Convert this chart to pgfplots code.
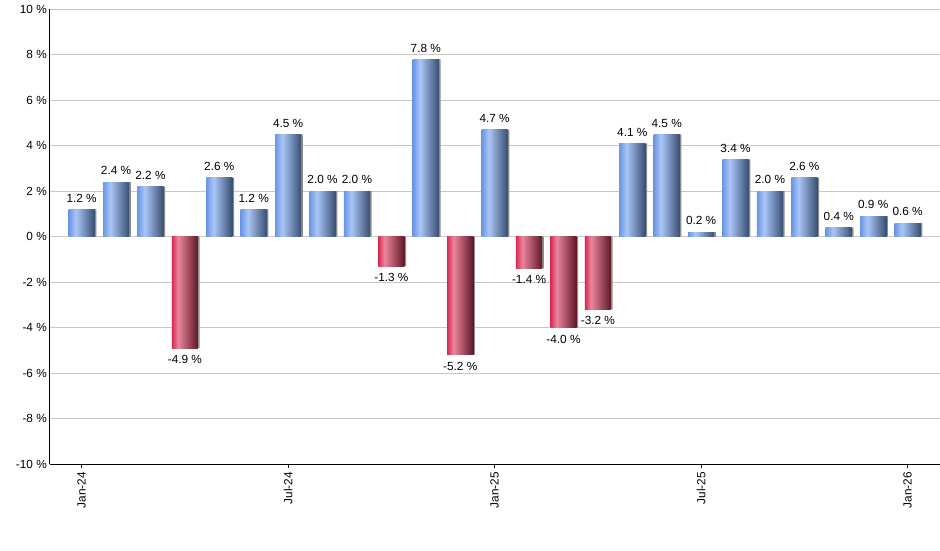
\documentclass[border=0pt]{standalone}
\usepackage{pgfplots}
\pgfplotsset{compat=1.18}
\usepackage{fontspec}
\setmainfont{Liberation Sans}

\definecolor{blueA}{HTML}{6A96E6}
\definecolor{blueB}{HTML}{AAC6F6}
\definecolor{blueC}{HTML}{384D72}
\definecolor{redA}{HTML}{D82A54}
\definecolor{redB}{HTML}{EA869D}
\definecolor{redC}{HTML}{5E1626}
\definecolor{gridc}{HTML}{C8C8C8}
\definecolor{shadowc}{HTML}{8C8C8C}

% colours run left to right across each bar (25bp..75bp is the bar)
\pgfdeclarehorizontalshading{bluebar}{100bp}{color(0bp)=(blueA); color(25bp)=(blueA); color(39bp)=(blueB); color(75bp)=(blueC); color(100bp)=(blueC)}
\pgfdeclarehorizontalshading{redbar}{100bp}{color(0bp)=(redA); color(25bp)=(redA); color(37bp)=(redB); color(75bp)=(redC); color(100bp)=(redC)}

\newcommand{\lblfont}{\fontsize{11.8}{13}\selectfont}

\pgfplotsset{
  barlabel/.style={nodes near coords={\pgfmathprintnumber[fixed,fixed zerofill,precision=1]{\pgfplotspointmeta} \%}},
  gain/.style={ybar, bar shift=0pt, draw=none, shading=bluebar, shading angle=0, barlabel,
    every node near coord/.style={font=\lblfont, text=black, anchor=south, inner sep=0pt, yshift=7pt}},
  loss/.style={ybar, bar shift=0pt, draw=none, shading=redbar, shading angle=0, barlabel,
    every node near coord/.style={font=\lblfont, text=black, anchor=north, inner sep=0pt, yshift=-7pt}},
}
% one plot per bar so that every bar gets its own gradient
\newcommand{\up}[2]{\addplot[gain] coordinates {(#1,#2)};}
\newcommand{\dn}[2]{\addplot[loss] coordinates {(#1,#2)};}

\begin{document}
\begin{tikzpicture}
\useasboundingbox (0,0) rectangle (940pt,550pt);
\begin{axis}[
    at={(50pt,86pt)}, anchor=south west,
    scale only axis,
    width=890pt, height=454.7pt,
    xmin=-0.92, xmax=24.94,
    ymin=-10, ymax=10,
    ytick={-10,-8,...,10},
    xtick={0,6,12,18,24},
    xticklabels={Jan-24,Jul-24,Jan-25,Jul-25,Jan-26},
    axis lines*=left,
    axis line style={black, line width=1pt, -},
    tick align=outside,
    major tick length=4pt,
    xtick style={black, line width=1pt},
    ytick style={draw=none},
    ymajorgrids,
    grid style={gridc, line width=0.9pt},
    yticklabel={\pgfmathprintnumber{\tick} \%},
    /pgf/number format/assume math mode=true,
    yticklabel style={font=\lblfont, inner sep=0pt, xshift=1pt},
    xticklabel style={font=\lblfont, rotate=90, anchor=east, inner sep=4pt},
    ybar, bar width=0.76,
    clip=false,
]
% shadow on the right of every bar
\addplot[ybar, bar shift=1.6pt, fill=shadowc, draw=none] coordinates {
  (0,1.2) (1,2.4) (2,2.2) (3,-4.9) (4,2.6) (5,1.2) (6,4.5) (7,2.0) (8,2.0)
  (9,-1.3) (10,7.8) (11,-5.2) (12,4.7) (13,-1.4) (14,-4.0) (15,-3.2) (16,4.1)
  (17,4.5) (18,0.2) (19,3.4) (20,2.0) (21,2.6) (22,0.4) (23,0.9) (24,0.6)};

\up{0}{1.2}
\up{1}{2.4}
\up{2}{2.2}
\dn{3}{-4.9}
\up{4}{2.6}
\up{5}{1.2}
\up{6}{4.5}
\up{7}{2.0}
\up{8}{2.0}
\dn{9}{-1.3}
\up{10}{7.8}
\dn{11}{-5.2}
\up{12}{4.7}
\dn{13}{-1.4}
\dn{14}{-4.0}
\dn{15}{-3.2}
\up{16}{4.1}
\up{17}{4.5}
\up{18}{0.2}
\up{19}{3.4}
\up{20}{2.0}
\up{21}{2.6}
\up{22}{0.4}
\up{23}{0.9}
\up{24}{0.6}
\end{axis}
\end{tikzpicture}
\end{document}
